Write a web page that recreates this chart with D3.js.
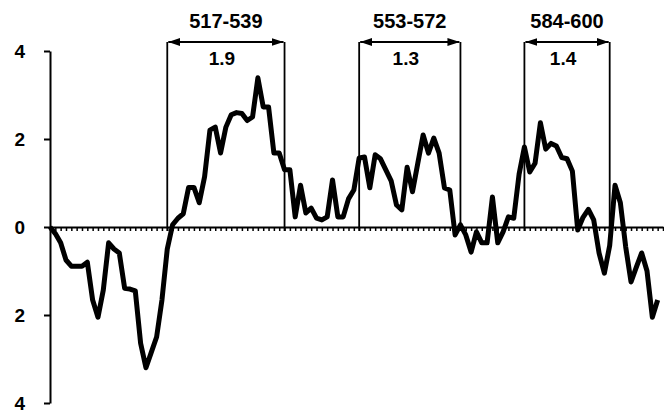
<!DOCTYPE html>
<html>
<head>
<meta charset="utf-8">
<script src="https://cdn.jsdelivr.net/npm/d3@7"></script>
<style>
  body { margin: 0; background: #fff; }
  svg { display: block; }
</style>
</head>
<body>
<div id="chart"></div>
<script>
// hydropathy profile, one value per residue starting at firstResidue
const firstResidue = 495;
const hydropathy = [
  0, -0.15, -0.36, -0.75, -0.89, -0.89, -0.89, -0.8, -1.66, -2.05,
  -1.43, -0.36, -0.5, -0.59, -1.39, -1.41, -1.45, -2.64, -3.2, -2.85,
  -2.5, -1.66, -0.5, 0.05, 0.2, 0.3, 0.9, 0.9, 0.55, 1.14,
  2.2, 2.27, 1.68, 2.27, 2.55, 2.6, 2.58, 2.42, 2.5, 3.39,
  2.73, 2.73, 1.68, 1.68, 1.3, 1.3, 0.23, 0.95, 0.32, 0.43,
  0.2, 0.16, 0.23, 1.07, 0.23, 0.23, 0.64, 0.84, 1.57, 1.59,
  0.89, 1.64, 1.55, 1.3, 1.05, 0.5, 0.39, 1.36, 0.8, 1.45,
  2.09, 1.68, 2.02, 1.68, 0.89, 0.84, -0.18, 0.05, -0.18, -0.57,
  -0.11, -0.36, -0.36, 0.68, -0.36, -0.11, 0.23, 0.2, 1.2, 1.82,
  1.25, 1.45, 2.37, 1.77, 1.9, 1.84, 1.58, 1.55, 1.27, -0.07,
  0.22, 0.4, 0.16, -0.59, -1.05, -0.42, 0.95, 0.55, -0.45, -1.25,
  -0.91, -0.59, -1.0, -2.05, -1.66
];

// hydrophobic segments and their mean value
const segStart = [517, 553, 584];
const segEnd = [539, 572, 600];
const segMean = ["1.9", "1.3", "1.4"];

const yTicks = [-4, -2, 0, 2, 4];

const width = 664, height = 412;
const data = hydropathy.map((v, i) => ({r: firstResidue + i, v}));
const lastResidue = firstResidue + hydropathy.length; // axis runs one step past the data

const x = d3.scaleLinear().domain([firstResidue, lastResidue]).range([50, 663]);
const y = d3.scaleLinear().domain([-4, 4]).range([403, 51]);

const svg = d3.select("#chart").append("svg")
  .attr("width", width)
  .attr("height", height)
  .attr("viewBox", [0, 0, width, height])
  .attr("font-family", "'Liberation Sans', Arial, sans-serif")
  .attr("font-weight", "bold");

svg.append("defs").append("marker")
    .attr("id", "arrow")
    .attr("viewBox", "0 0 12 8")
    .attr("refX", 12)
    .attr("refY", 4)
    .attr("markerWidth", 12)
    .attr("markerHeight", 8)
    .attr("markerUnits", "userSpaceOnUse")
    .attr("orient", "auto-start-reverse")
  .append("path")
    .attr("d", "M0,0L12,4L0,8Z")
    .attr("fill", "#000");

// x axis along zero, one tick per residue
svg.append("g")
    .attr("transform", `translate(0,${y(0)})`)
    .call(d3.axisBottom(x)
      .tickValues(d3.range(firstResidue, lastResidue + 1))
      .tickSize(4)
      .tickSizeOuter(0)
      .tickFormat(""))
    .call(g => g.select(".domain").attr("stroke-width", 2))
    .call(g => g.selectAll(".tick line").attr("stroke-width", 1.5));

// y axis, labels printed without sign as in the original
svg.append("g")
    .attr("transform", `translate(${x(firstResidue)},0)`)
    .call(d3.axisLeft(y)
      .tickValues(yTicks)
      .tickSize(6)
      .tickSizeOuter(0)
      .tickPadding(19)
      .tickFormat(d => Math.abs(d)))
    .call(g => g.select(".domain").attr("stroke-width", 2))
    .call(g => g.selectAll(".tick line").attr("stroke-width", 2))
    .call(g => g.selectAll(".tick text")
      .attr("font-size", 19)
      .attr("font-weight", "bold")
      .attr("font-family", "'Liberation Sans', Arial, sans-serif"));

// segment boxes
const seg = svg.append("g")
  .selectAll("g")
  .data(segStart.map((s, i) => ({s, e: segEnd[i], m: segMean[i]})))
  .join("g");

const arrowY = 42;

seg.append("line")
    .attr("x1", d => x(d.s)).attr("x2", d => x(d.s))
    .attr("y1", arrowY).attr("y2", y(0) + 4)
    .attr("stroke", "#000").attr("stroke-width", 1.8);

seg.append("line")
    .attr("x1", d => x(d.e)).attr("x2", d => x(d.e))
    .attr("y1", arrowY).attr("y2", y(0) + 4)
    .attr("stroke", "#000").attr("stroke-width", 1.8);

seg.append("line")
    .attr("x1", d => x(d.s) + 1).attr("x2", d => x(d.e) - 1)
    .attr("y1", arrowY).attr("y2", arrowY)
    .attr("stroke", "#000").attr("stroke-width", 2)
    .attr("marker-start", "url(#arrow)")
    .attr("marker-end", "url(#arrow)");

seg.append("text")
    .attr("x", d => (x(d.s) + x(d.e)) / 2)
    .attr("y", 28)
    .attr("text-anchor", "middle")
    .attr("font-size", 20)
    .text(d => `${d.s}-${d.e}`);

seg.append("text")
    .attr("x", d => (x(d.s) + x(d.e)) / 2 - 4)
    .attr("y", 65)
    .attr("text-anchor", "middle")
    .attr("font-size", 19)
    .text(d => d.m);

// profile
const line = d3.line()
  .x(d => x(d.r))
  .y(d => y(d.v));

svg.append("path")
    .datum(data)
    .attr("fill", "none")
    .attr("stroke", "#000")
    .attr("stroke-width", 5)
    .attr("stroke-linejoin", "round")
    .attr("d", line);
</script>
</body>
</html>
